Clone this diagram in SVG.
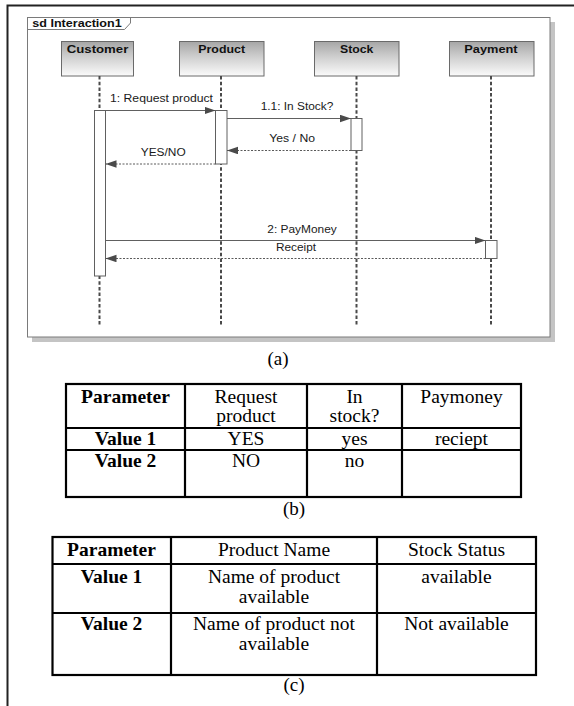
<svg xmlns="http://www.w3.org/2000/svg" width="574" height="706" viewBox="0 0 574 706">
  <style>
    .uml { font-family: "Liberation Sans", Arial, sans-serif; fill: #1a1a1a; }
    .head { font-size: 10px; font-weight: bold; fill: #111; }
    .msg { font-size: 10px; }
    .box { fill: url(#headFill); stroke: #6a6a6a; stroke-width: 1; }
    .life { stroke: #4a4a4a; stroke-width: 2; stroke-dasharray: 3.5 2.2; fill: none; }
    .act { fill: #fff; stroke: #606060; stroke-width: 1; }
    .call { stroke: #606060; stroke-width: 1; fill: none; marker-end: url(#head); }
    .ret { stroke: #5a5a5a; stroke-width: 1; stroke-dasharray: 2 1.5; fill: none; marker-end: url(#head); }
    .tbl { fill: none; stroke: #000; stroke-width: 2.2; }
    .tt { font-family: "Liberation Serif", "Times New Roman", serif; font-size: 19.5px; fill: #000; text-anchor: middle; }
    .b { font-weight: bold; }
    .cap { font-family: "Liberation Serif", "Times New Roman", serif; font-size: 19px; fill: #000; text-anchor: middle; }
  </style>
  <defs>
    <linearGradient id="headFill" x1="0" y1="0" x2="0" y2="1">
      <stop offset="0" stop-color="#a6a6a6"/>
      <stop offset="0.45" stop-color="#cfcfcf"/>
      <stop offset="1" stop-color="#fbfbfb"/>
    </linearGradient>
    <marker id="head" markerUnits="userSpaceOnUse" markerWidth="12" markerHeight="8" refX="11" refY="3.75" orient="auto">
      <path d="M0,0 L11,3.75 L0,7.5 z" fill="#4a4a4a"/>
    </marker>
  </defs>

  <rect width="574" height="706" fill="#fff"/>

  <!-- page border (open on right and bottom) -->
  <path d="M7.5,706 V5.5 H574" fill="none" stroke="#222" stroke-width="2"/>

  <!-- interaction frame with drop shadow -->
  <g id="frame">
    <rect x="32" y="22" width="523" height="320" fill="#c4c4c4"/>
    <rect x="27.5" y="17.5" width="522.5" height="319.5" fill="#fff" stroke="#7a7a7a" stroke-width="1"/>
    <path d="M27.5,29.5 H124.5 L130.5,23 V17.5" fill="none" stroke="#7a7a7a" stroke-width="1"/>
    <text class="uml head" x="32.3" y="26.5" font-size="9.5" textLength="89.4" lengthAdjust="spacingAndGlyphs">sd Interaction1</text>
  </g>

  <!-- lifelines -->
  <g id="customer" class="uml">
    <rect class="box" x="61.5" y="41.5" width="72" height="34.5"/>
    <text class="head" x="66.7" y="52.5" textLength="61.7" lengthAdjust="spacingAndGlyphs">Customer</text>
    <path class="life" d="M99.5,76 V326"/>
    <rect class="act" x="94.5" y="110.5" width="11" height="165.5"/>
  </g>
  <g id="product" class="uml">
    <rect class="box" x="179.5" y="41.5" width="84.5" height="34.5"/>
    <text class="head" x="198.3" y="52.5" textLength="46.7" lengthAdjust="spacingAndGlyphs">Product</text>
    <path class="life" d="M221,76 V326"/>
    <rect class="act" x="215.5" y="110.5" width="11.5" height="53.5"/>
  </g>
  <g id="stock" class="uml">
    <rect class="box" x="314.5" y="41.5" width="84.5" height="34.5"/>
    <text class="head" x="340" y="52.5" textLength="33.3" lengthAdjust="spacingAndGlyphs">Stock</text>
    <path class="life" d="M356.5,76 V326"/>
    <rect class="act" x="351" y="118.5" width="11" height="32"/>
  </g>
  <g id="payment" class="uml">
    <rect class="box" x="449.5" y="41.5" width="84.5" height="34.5"/>
    <text class="head" x="464.3" y="52.5" textLength="53.3" lengthAdjust="spacingAndGlyphs">Payment</text>
    <path class="life" d="M491,76 V326"/>
    <rect class="act" x="485.5" y="240.5" width="11.5" height="18"/>
  </g>

  <!-- messages -->
  <g id="messages" class="uml">
    <path class="call" d="M105.5,110.5 H215.5"/>
    <text class="msg" x="110" y="101.5" textLength="103" lengthAdjust="spacingAndGlyphs">1: Request product</text>

    <path class="call" d="M227,118.5 H351"/>
    <text class="msg" x="260.7" y="110.3" textLength="72.6" lengthAdjust="spacingAndGlyphs">1.1: In Stock?</text>

    <path class="ret" d="M351,150.5 H227"/>
    <text class="msg" x="269.3" y="142.3" textLength="45.7" lengthAdjust="spacingAndGlyphs">Yes / No</text>

    <path class="ret" d="M215.5,164 H105.5"/>
    <text class="msg" x="140.7" y="155.5" textLength="45" lengthAdjust="spacingAndGlyphs">YES/NO</text>

    <path class="call" d="M105.5,240.5 H485.5"/>
    <text class="msg" x="267.3" y="232.5" textLength="69.4" lengthAdjust="spacingAndGlyphs">2: PayMoney</text>

    <path class="ret" d="M485.5,258.5 H105.5"/>
    <text class="msg" x="276" y="251" textLength="40" lengthAdjust="spacingAndGlyphs">Receipt</text>
  </g>

  <text class="cap" x="278" y="365">(a)</text>

  <!-- table (b): message parameters -->
  <g id="table-b">
    <rect class="tbl" x="66" y="384" width="455" height="113"/>
    <path class="tbl" d="M185,384 V497 M307,384 V497 M402,384 V497 M66,428 H521 M66,450 H521"/>
    <text class="tt b" x="125.5" y="403">Parameter</text>
    <text class="tt" x="246" y="403">Request</text>
    <text class="tt" x="246" y="422">product</text>
    <text class="tt" x="354.5" y="403">In</text>
    <text class="tt" x="354.5" y="422">stock?</text>
    <text class="tt" x="461.5" y="403">Paymoney</text>
    <text class="tt b" x="125.5" y="445">Value 1</text>
    <text class="tt" x="246" y="445">YES</text>
    <text class="tt" x="354.5" y="445">yes</text>
    <text class="tt" x="461.5" y="445">reciept</text>
    <text class="tt b" x="125.5" y="467">Value 2</text>
    <text class="tt" x="246" y="467">NO</text>
    <text class="tt" x="354.5" y="467">no</text>
  </g>

  <text class="cap" x="294" y="515">(b)</text>

  <!-- table (c): product parameters -->
  <g id="table-c">
    <rect class="tbl" x="52.5" y="537" width="483.5" height="138"/>
    <path class="tbl" d="M171,537 V675 M377,537 V675 M52.5,564 H536 M52.5,613 H536"/>
    <text class="tt b" x="111.5" y="556">Parameter</text>
    <text class="tt" x="274" y="556">Product Name</text>
    <text class="tt" x="456.5" y="556">Stock Status</text>
    <text class="tt b" x="111.5" y="583">Value 1</text>
    <text class="tt" x="274" y="583">Name of product</text>
    <text class="tt" x="274" y="603">available</text>
    <text class="tt" x="456.5" y="583">available</text>
    <text class="tt b" x="111.5" y="630">Value 2</text>
    <text class="tt" x="274" y="630">Name of product not</text>
    <text class="tt" x="274" y="650">available</text>
    <text class="tt" x="456.5" y="630">Not available</text>
  </g>

  <text class="cap" x="294" y="691">(c)</text>
</svg>
